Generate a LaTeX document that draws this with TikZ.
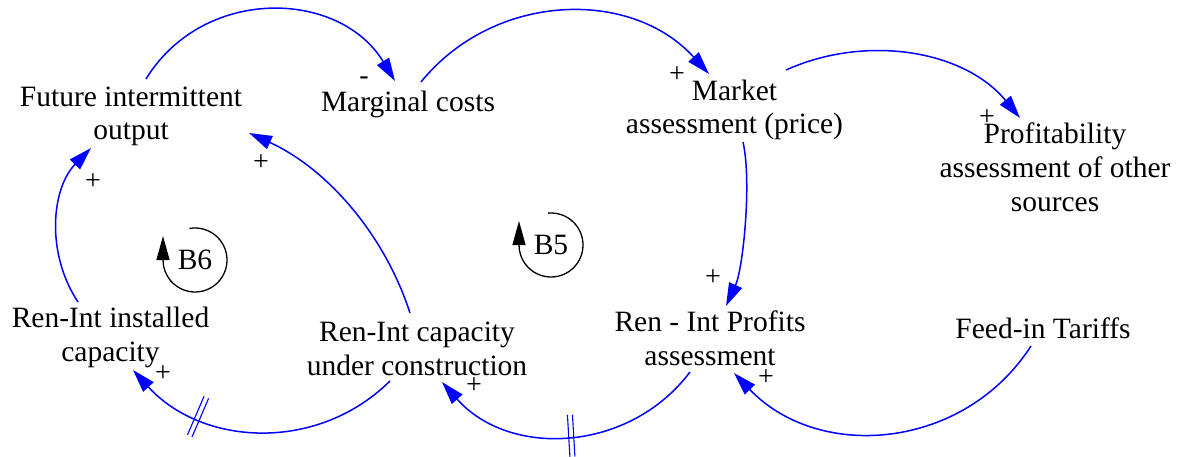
\documentclass[tikz,border=0pt]{standalone}
\usepackage{fontspec}
\setmainfont{Liberation Serif}
\usetikzlibrary{arrows.meta,decorations.markings}
\definecolor{linkblue}{RGB}{0,0,255}
\begin{document}
\begin{tikzpicture}[x=1pt,y=-1pt,
  var/.style={font=\fontsize{29.5}{33.5}\selectfont, align=center, anchor=base, inner sep=0pt},
  sign/.style={font=\fontsize{28}{30}\selectfont, inner sep=0pt},
  looplabel/.style={font=\fontsize{29.5}{33.5}\selectfont, inner sep=0pt},
  link/.style={draw=linkblue, line width=1.5pt, -{Triangle[length=23pt,width=14pt]}},
  delaymark/.style={postaction={decorate}, decoration={markings,
      mark=at position #1 with {\draw[draw=linkblue, line width=1.1pt, -] (-2.5pt,-21pt) -- (-2.5pt,21pt) (2.5pt,-21pt) -- (2.5pt,21pt);}}},
  loopsym/.style={draw=black, line width=1.3pt, -{Triangle[length=24pt,width=13pt]}}
]
\useasboundingbox (0,0) rectangle (1182,457);

% variables (placed at the baseline of their last line)
\node[var] (fio) at (131,140) {Future intermittent\\output};
\node[var] (mc)  at (408,112) {Marginal costs};
\node[var] (ma)  at (734.5,134) {Market\\assessment (price)};
\node[var] (pa)  at (1055,211) {Profitability\\assessment of other\\sources};
\node[var] (ric) at (110.5,361) {Ren-Int installed\\capacity};
\node[var] (ucc) at (417,375) {Ren-Int capacity\\under construction};
\node[var] (rpa) at (710,365) {Ren - Int Profits\\assessment};
\node[var] (fit) at (1043,338) {Feed-in Tariffs};

% loop symbols
\node[looplabel] (b6) at (195,260) {B6};
\node[looplabel] (b5) at (551,245) {B5};
\draw[loopsym] ([shift={(100:32pt)}]b6.center) arc[start angle=100, end angle=-180, radius=32pt] -- ++(0pt,24pt);
\draw[loopsym] ([shift={(95:32pt)}]b5.center) arc[start angle=95, end angle=-180, radius=32pt] -- ++(0pt,24pt);

% links
\draw[link] ([shift={(15,-61)}]fio.base) .. controls (203,-14) and (339,-11) .. ([shift={(-13,-31)}]mc.base);
\draw[link] ([shift={(13,-30)}]mc.base) .. controls (494,-8) and (631,-12) .. ([shift={(-25.5,-60)}]ma.base);
\draw[link] ([shift={(51.5,-64)}]ma.base) .. controls (866,34) and (964,50) .. ([shift={(-35,-93)}]pa.base);
\draw[link] ([shift={(8.5,8)}]ma.base) .. controls (752,182) and (743,269) .. ([shift={(16,-59)}]rpa.base);
\draw[link] ([shift={(-12,8)}]fit.base) .. controls (964,450) and (819,462) .. ([shift={(24,8)}]rpa.base);
\draw[link, delaymark=0.49] ([shift={(-20,7)}]rpa.base) .. controls (629,453) and (509,458) .. ([shift={(25,7)}]ucc.base);
\draw[link, delaymark=0.72] ([shift={(-27,6)}]ucc.base) .. controls (317,453) and (202,446) .. ([shift={(22.5,9)}]ric.base);
\draw[link] ([shift={(-32.5,-59)}]ric.base) .. controls (46,254) and (51,189) .. ([shift={(-40,8)}]fio.base);
\draw[link] ([shift={(-7,-62)}]ucc.base) .. controls (384,233) and (326,168) .. ([shift={(118,-7)}]fio.base);

% polarities
\node[sign] (p1) at (364,77) {-\vphantom{+}};
\node[sign] (p2) at (677,75) {+};
\node[sign] (p3) at (987,118) {+};
\node[sign] (p4) at (713,278) {+};
\node[sign] (p5) at (766,378) {+};
\node[sign] (p6) at (474,386) {+};
\node[sign] (p7) at (163,374) {+};
\node[sign] (p8) at (93,182) {+};
\node[sign] (p9) at (261,163) {+};
\end{tikzpicture}
\end{document}
